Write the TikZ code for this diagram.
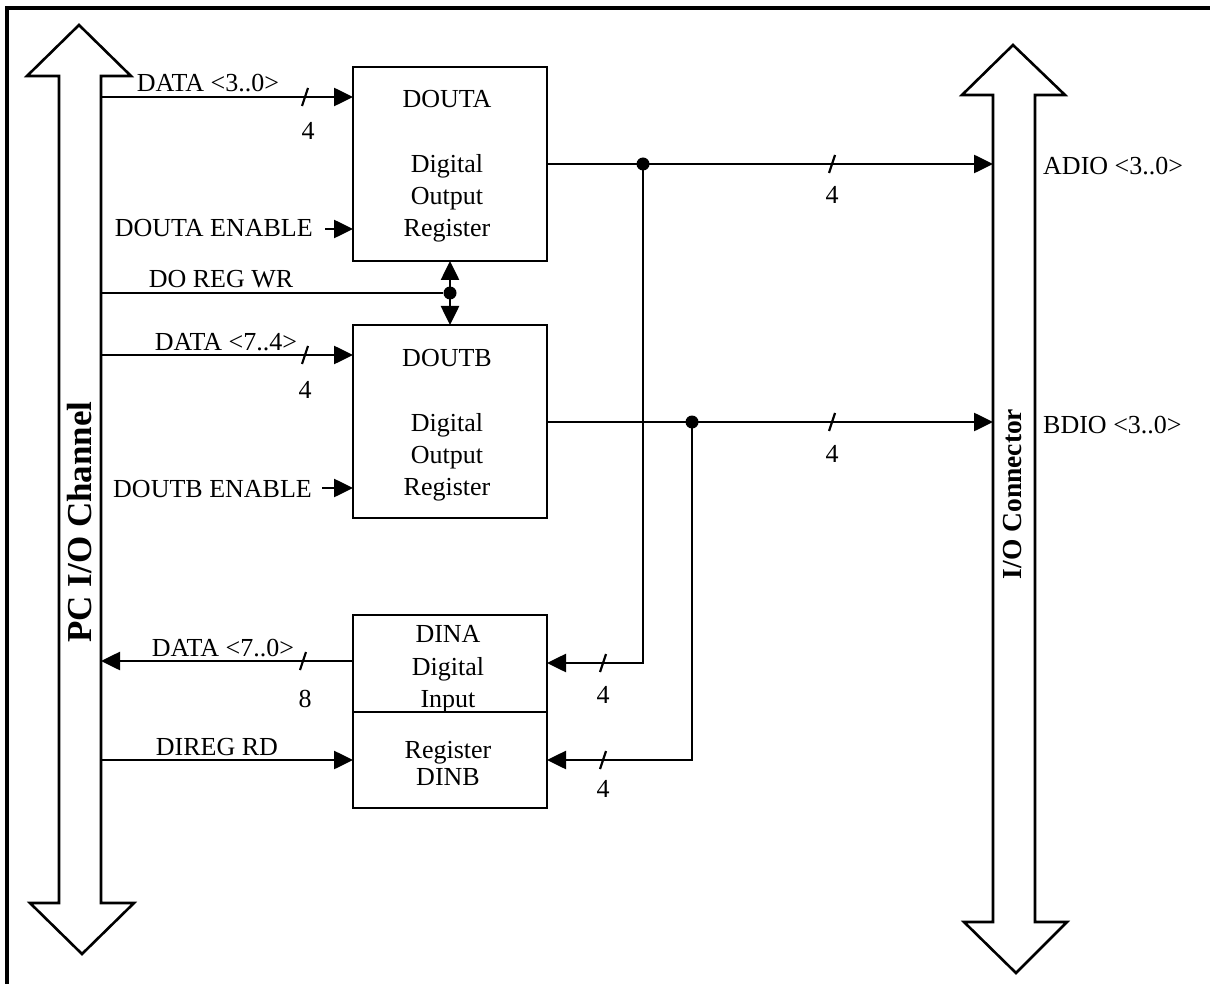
\documentclass[tikz,border=0pt]{standalone}
\usepackage{fontspec}
\setmainfont{Liberation Serif}
\usetikzlibrary{arrows.meta}
\begin{document}
\begin{tikzpicture}[x=1pt,y=-1pt,
  ln/.style={line width=2.6pt},
  arr/.style={ln,-{Triangle[length=19pt,width=18pt]}},
  darr/.style={ln,{Triangle[length=19pt,width=18pt]}-{Triangle[length=19pt,width=18pt]}},
  box/.style={draw,line width=2.6pt,minimum width=194pt,inner sep=0pt,outer sep=0pt},
  lbl/.style={font=\fontsize{26pt}{31pt}\selectfont,inner sep=0pt,anchor=base},
  dot/.style={circle,fill,inner sep=0pt,minimum size=13pt},
  bus/.style={draw,line width=2.6pt,line join=miter},
  slash/.style={line width=2.2pt}
]
\useasboundingbox (0,0) rectangle (1210,984);
% frame (only top and left visible)
\draw[line width=3.6pt] (7,984) -- (7,8) -- (1210,8);

% buses
\draw[bus] (59,903) -- (59,76) -- (27,76) -- (79,25) -- (131,76) -- (101,76)
  -- (101,903) -- (134,903) -- (82,954) -- (30,903) -- cycle;
\draw[bus] (993,922) -- (993,95) -- (962,95) -- (1013,45) -- (1065,95) -- (1035,95)
  -- (1035,922) -- (1067,922) -- (1016,973) -- (964,922) -- cycle;
\node[rotate=90,inner sep=0pt,font=\bfseries\fontsize{35pt}{40pt}\selectfont] (pclbl) at (80,522) {PC I/O Channel};
\node[rotate=90,inner sep=0pt,font=\bfseries\fontsize{27.5pt}{32pt}\selectfont] (iolbl) at (1013,494) {I/O Connector};

% boxes
\node[box,minimum height=194pt] (douta) at (450,164) {};
\node[box,minimum height=193pt] (doutb) at (450,421.5) {};
\node[box,minimum height=97pt] (dina) at (450,663.5) {};
\node[box,minimum height=96pt] (dinb) at (450,760) {};

% box texts
\node[lbl] (ta1) at (447,108) {DOUTA};
\node[lbl] (ta2) at (447,173) {Digital};
\node[lbl] (ta3) at (447,205) {Output};
\node[lbl] (ta4) at (447,237) {Register};
\node[lbl] (tb1) at (447,366) {DOUTB};
\node[lbl] (tb2) at (447,431) {Digital};
\node[lbl] (tb3) at (447,463) {Output};
\node[lbl] (tb4) at (447,495) {Register};
\node[lbl] (tc1) at (448,642) {DINA};
\node[lbl] (tc2) at (448,675) {Digital};
\node[lbl] (tc3) at (448,707) {Input};
\node[lbl] (td1) at (448,758) {Register};
\node[lbl] (td2) at (448,785) {DINB};

% coordinates on the buses
\coordinate (pA) at (101,97);
\coordinate (pWR) at (101,293);
\coordinate (pB) at (101,355);
\coordinate (pIn) at (101,661);
\coordinate (pRD) at (101,760);
\coordinate (rA) at (700,663);
\coordinate (enA) at (325,229);
\coordinate (enB) at (322,488);
\coordinate (ioA) at (993,164);
\coordinate (ioB) at (993,422);

% junction dots
\node[dot] (jA) at (643,164) {};
\node[dot] (jB) at (692,422) {};
\node[dot] (jWR) at (450,293) {};

% connectors
\draw[arr] (pA) -- (douta.west |- pA);
\draw[arr] (enA) -- (douta.west |- enA);
\draw[ln] (pWR) -- (jWR);
\draw[darr] (douta.south) -- (doutb.north);
\draw[arr] (pB) -- (doutb.west |- pB);
\draw[arr] (enB) -- (doutb.west |- enB);
\draw[arr] (dina.west |- pIn) -- (pIn);
\draw[arr] (pRD) -- (dinb.west |- pRD);
\draw[arr] (douta.east) -- (ioA);
\draw[arr] (doutb.east |- ioB) -- (ioB);
\draw[arr] (jA.center) |- (dina.east |- rA);
\draw[arr] (jB.center) |- (dinb.east |- pRD);

% bus-width slashes
\foreach \x/\y in {305/97,305/355,303/661,832/164,832/422,603/663,603/760}
  \draw[slash] (\x-3,\y+9) -- (\x+3,\y-9);

% labels
\node[lbl] (l1) at (208,92) {DATA <3..0>};
\node[lbl] (n1) at (308,140) {4};
\node[lbl,anchor=base east] (l2) at (313,237) {DOUTA ENABLE};
\node[lbl] (l3) at (221,288) {DO REG WR};
\node[lbl] (l4) at (226,350) {DATA <7..4>};
\node[lbl] (n2) at (305,398) {4};
\node[lbl,anchor=base east] (l5) at (312,497) {DOUTB ENABLE};
\node[lbl] (l6) at (223,656) {DATA <7..0>};
\node[lbl] (n3) at (305,707) {8};
\node[lbl] (l7) at (217,755) {DIREG RD};
\node[lbl,anchor=base west] (l8) at (1043,175) {ADIO <3..0>};
\node[lbl,anchor=base west] (l9) at (1043,433) {BDIO <3..0>};
\node[lbl] (n4) at (832,204) {4};
\node[lbl] (n5) at (832,462) {4};
\node[lbl] (n6) at (603,703) {4};
\node[lbl] (n7) at (603,797) {4};
\end{tikzpicture}
\end{document}
